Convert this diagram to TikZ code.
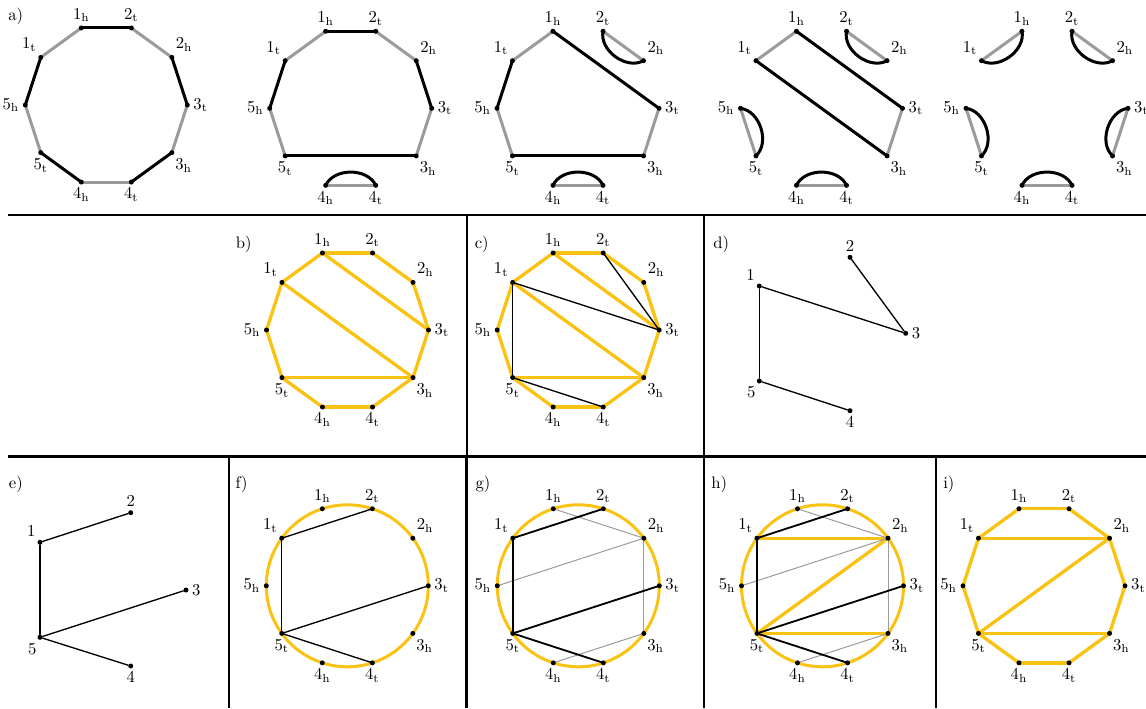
\documentclass[tikz,border=0pt]{standalone}
\usetikzlibrary{calc}
\pgfdeclarelayer{bg}\pgfsetlayers{bg,main}
\definecolor{gold}{RGB}{250,195,20}
\definecolor{edgegray}{RGB}{155,155,155}
\tikzset{
 dot/.style={circle,fill=black,inner sep=0pt,minimum size=3pt},
 lab/.style={inner sep=1.8pt},
 blk/.style={line width=1.8pt,line cap=round},
 gry/.style={line width=1.8pt,draw=edgegray,line cap=round},
 yel/.style={line width=2pt,draw=gold,line cap=round},
 ring/.style={line width=1.8pt,draw=gold},
 thinblk/.style={line width=0.8pt,line cap=round},
 midblk/.style={line width=1.1pt,line cap=round},
 lgry/.style={line width=0.6pt,draw=edgegray},
 divider/.style={line width=1.6pt},
 plab/.style={inner sep=0pt},
 arcb/.style={line width=1.8pt,line cap=round,bend left=65},
}
\newcommand\mkdec[3]{%
 \foreach \n/\a/\la/\tx in {3t/0/0/3_{\mathrm t},2h/36/75/2_{\mathrm h},2t/72/90/2_{\mathrm t},1h/108/90/1_{\mathrm h},1t/144/110/1_{\mathrm t},5h/180/180/5_{\mathrm h},5t/216/-90/5_{\mathrm t},4h/252/-90/4_{\mathrm h},4t/288/-90/4_{\mathrm t},3h/324/-85/3_{\mathrm h}}{%
  \node[dot,label={[lab]\la:$\tx$}] (#1\n) at ($(#2,#3)+(-\a:81)$) {};
 }}
\newcommand\ring[3]{% style, prefix, pairs
 \foreach \u/\v in {#3}{\draw[#1] (#2\u.center) -- (#2\v.center);}}
\begin{document}
\begin{tikzpicture}[x=0.6pt,y=-0.6pt]
\useasboundingbox (0,0) rectangle (1146,708);
% ---------- panel labels
\node[plab] (la) at (15.7,16.7) {a)};
\node[plab] (lb) at (243.8,244.2) {b)};
\node[plab] (lc) at (481.7,244.5) {c)};
\node[plab] (ld) at (721.3,244.2) {d)};
\node[plab] (le) at (15.8,484.5) {e)};
\node[plab] (lf) at (241.7,484.2) {f)};
\node[plab] (lg) at (483,484.5) {g)};
\node[plab] (lh) at (719.2,484.2) {h)};
\node[plab] (li) at (948.8,484.2) {i)};
% ---------- dividers
\draw[divider] (8,215) -- (1146,215);
\draw[divider] (8,456.5) -- (1146,456.5);
\draw[divider] (467,215) -- (467,456.5);
\draw[divider] (704,215) -- (704,456.5);
\draw[divider] (229,456.5) -- (229,708);
\draw[divider] (466.5,456.5) -- (466.5,708);
\draw[divider] (704,456.5) -- (704,708);
\draw[divider] (936,456.5) -- (936,708);
% ---------- vertices
\mkdec{a1-}{106.3}{105}
\mkdec{a2-}{350.7}{108.3}
\mkdec{a3-}{578}{108.3}
\mkdec{a4-}{821.5}{108.3}
\mkdec{a5-}{1047}{108.3}
\mkdec{b-}{347.5}{330}
\mkdec{c-}{578.2}{330}
\mkdec{f-}{347.3}{585.8}
\mkdec{g-}{578.3}{585.8}
\mkdec{h-}{822.5}{585.8}
\mkdec{i-}{1044}{585.8}
\coordinate (fc) at (347.3,585.8);
\coordinate (gc) at (578.3,585.8);
\coordinate (hc) at (822.5,585.8);
% d)
\node[dot,label={[lab]115:$1$}] (d1) at (759.3,286) {};
\node[dot,label={[lab]90:$2$}] (d2) at (850,257.3) {};
\node[dot,label={[lab]0:$3$}] (d3) at (905.7,333.3) {};
\node[dot,label={[lab]-90:$4$}] (d4) at (850,410.7) {};
\node[dot,label={[lab]-100:$5$}] (d5) at (759.3,381) {};
% e)
\node[dot,label={[lab]115:$1$}] (e1) at (40,542.3) {};
\node[dot,label={[lab]90:$2$}] (e2) at (130.7,512.7) {};
\node[dot,label={[lab]0:$3$}] (e3) at (186,590) {};
\node[dot,label={[lab]-90:$4$}] (e4) at (130.7,666) {};
\node[dot,label={[lab]-95:$5$}] (e5) at (40,637.3) {};
% ---------- edges
\begin{pgfonlayer}{bg}
% a1
\ring{gry}{a1-}{1t/1h,2t/2h,3t/3h,4t/4h,5t/5h}
\ring{blk}{a1-}{1h/2t,2h/3t,3h/4t,4h/5t,5h/1t}
% a2
\ring{gry}{a2-}{1t/1h,2t/2h,3t/3h,4t/4h,5t/5h}
\ring{blk}{a2-}{1h/2t,2h/3t,3h/5t,5h/1t}
\draw[arcb] (a2-4h.center) to (a2-4t.center);
% a3
\ring{gry}{a3-}{1t/1h,2t/2h,3t/3h,4t/4h,5t/5h}
\ring{blk}{a3-}{1h/3t,3h/5t,5h/1t}
\draw[arcb] (a3-4h.center) to (a3-4t.center);
\draw[arcb] (a3-2h.center) to (a3-2t.center);
% a4
\ring{gry}{a4-}{1t/1h,2t/2h,3t/3h,4t/4h,5t/5h}
\ring{blk}{a4-}{1h/3t,3h/1t}
\draw[arcb] (a4-4h.center) to (a4-4t.center);
\draw[arcb] (a4-2h.center) to (a4-2t.center);
\draw[arcb] (a4-5h.center) to (a4-5t.center);
% a5
\ring{gry}{a5-}{1t/1h,2t/2h,3t/3h,4t/4h,5t/5h}
\draw[arcb] (a5-1h.center) to (a5-1t.center);
\draw[arcb] (a5-2h.center) to (a5-2t.center);
\draw[arcb] (a5-3h.center) to (a5-3t.center);
\draw[arcb] (a5-4h.center) to (a5-4t.center);
\draw[arcb] (a5-5h.center) to (a5-5t.center);
% b
\ring{yel}{b-}{1t/1h,1h/2t,2t/2h,2h/3t,3t/3h,3h/4t,4t/4h,4h/5t,5t/5h,5h/1t,1h/3t,1t/3h,5t/3h}
% c
\ring{yel}{c-}{1t/1h,1h/2t,2t/2h,2h/3t,3t/3h,3h/4t,4t/4h,4h/5t,5t/5h,5h/1t,1h/3t,1t/3h,5t/3h}
\ring{thinblk}{c-}{2t/3t,1t/3t,1t/5t,5t/4t}
% d, e
\draw[thinblk] (d2) -- (d3);
\draw[thinblk] (d1) -- (d3);
\draw[thinblk] (d1) -- (d5);
\draw[thinblk] (d5) -- (d4);
\draw[thinblk] (e1) -- (e2);
\draw[thinblk] (e1) -- (e5);
\draw[thinblk] (e5) -- (e3);
\draw[thinblk] (e5) -- (e4);
% f
\draw[ring] (fc) circle[radius=81];
\ring{thinblk}{f-}{1t/2t,1t/5t,5t/3t,5t/4t}
% g
\draw[ring] (gc) circle[radius=81];
\ring{lgry}{g-}{1h/2h,2h/5h,2h/3h,3h/4h}
\ring{midblk}{g-}{1t/2t,1t/5t,5t/3t,5t/4t}
% h
\draw[ring] (hc) circle[radius=81];
\ring{yel}{h-}{1t/2h,2h/5t,5t/3h}
\ring{lgry}{h-}{1h/2h,2h/5h,2h/3h,3h/4h}
\ring{midblk}{h-}{1t/2t,1t/5t,5t/3t,5t/4t}
% i
\ring{yel}{i-}{1t/1h,1h/2t,2t/2h,2h/3t,3t/3h,3h/4t,4t/4h,4h/5t,5t/5h,5h/1t,1t/2h,2h/5t,5t/3h}
\end{pgfonlayer}
\end{tikzpicture}
\end{document}
